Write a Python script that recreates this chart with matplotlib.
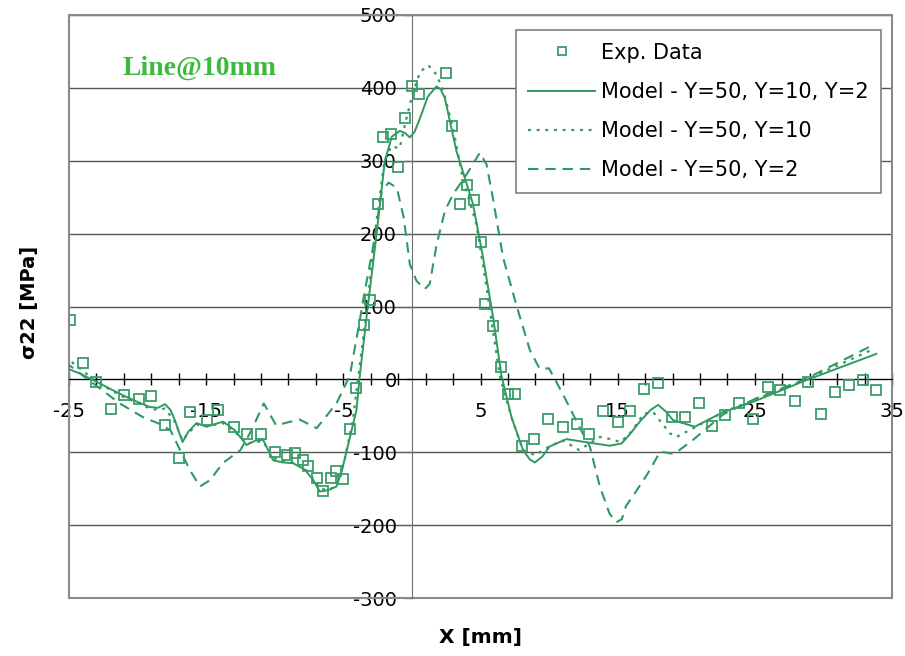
import numpy as np
import matplotlib
matplotlib.use('Agg')
import matplotlib.pyplot as plt
from matplotlib.ticker import FixedLocator
from matplotlib.lines import Line2D
from matplotlib.patches import Rectangle

plt.rcParams['font.family'] = ['DejaVu Sans']
plt.rcParams['axes.unicode_minus'] = False

# Dati sperimentali
exp_x = [-24.93, -23.99, -23.04, -21.95, -21.0, -19.9, -19.03, -18.0, -16.99, -16.19,
         -14.95, -14.15, -12.98, -12.03, -11.01, -10.0, -9.12, -8.54, -7.95, -7.59,
         -6.93, -6.49, -5.91, -5.55, -5.04, -4.53, -4.09, -3.51, -3.02, -2.46,
         -2.1, -1.56, -1.03, -0.52, 0.0, 0.48, 2.45, 2.93, 3.49, 3.98,
         4.51, 5.02, 5.36, 5.92, 6.46, 6.97, 7.55, 7.99, 8.91, 9.93,
         10.98, 12.0, 12.92, 13.94, 14.99, 15.88, 16.9, 17.94, 18.96, 19.89,
         20.91, 21.91, 22.86, 23.85, 24.87, 25.96, 26.87, 27.91, 28.88, 29.8,
         30.88, 31.87, 32.89, 33.81]
exp_y = [82, 23, -4, -41, -22, -27, -23, -62, -108, -45,
         -56, -42, -66, -75, -75, -100, -104, -101, -110, -119,
         -136, -153, -136, -126, -137, -68, -12, 75, 109, 240,
         332, 337, 291, 358, 403, 392, 421, 348, 241, 267,
         246, 189, 104, 73, 17, -20, -20, -91, -82, -55,
         -66, -61, -75, -44, -59, -44, -13, -5, -52, -51,
         -32, -64, -49, -32, -54, -11, -15, -30, -4, -48,
         -17, -8, -1, -15]

# Modello Y=50, Y=10, Y=2 (linea continua)
m1_x = [-25.3, -24.2, -23.24, -22.1, -21.05, -20.0, -19.1, -18.5, -18.0, -17.6, -17.28,
        -16.95, -16.72, -16.31, -15.7, -14.97, -14.3, -13.76, -12.9, -12.06, -11.4, -10.85,
        -10.4, -10.12, -9.4, -8.66, -7.8, -7.2, -6.71, -6.1, -5.5, -5.1, -4.77, -4.04,
        -3.8, -3.31, -2.58, -1.98, -1.47, -0.88, -0.5, -0.15, 0.2, 0.58, 1.16, 1.79,
        2.1, 2.4, 3.25, 4.46, 5.19, 5.92, 6.53, 7.26, 8.1, 8.6, 8.96, 9.5, 10.05,
        11.27, 12.97, 14.42, 15.28, 15.9, 16.61, 17.4, 17.95, 18.5, 19.04, 20.62, 22.68, 25.12,
        28.76, 33.86]
m1_y = [16, 8, -1, -12, -22, -31, -38, -39, -34, -42, -56,
        -74, -86, -72, -60, -65, -61, -58, -70, -90, -84, -83,
        -100, -111, -114, -115, -124, -138, -154, -152, -147, -125, -99, -42,
        5, 85, 199, 299, 333, 341, 338, 332, 340, 358, 388, 402,
        398, 386, 313, 240, 167, 85, 5, -52, -97, -110, -114, -106, -92,
        -82, -87, -91, -88, -75, -58, -42, -35, -44, -56, -65, -45, -29,
        -1, 35]

# Modello Y=50, Y=10 (punteggiata)
m2_x = [-25.3, -24.2, -23.24, -22.1, -21.05, -20.0, -19.1, -18.5, -18.0, -17.28,
        -16.72, -16.31, -15.7, -14.97, -14.3, -13.76, -12.9, -12.06, -11.4, -10.85,
        -10.12, -9.4, -8.66, -7.8, -7.2, -6.71, -6.1, -5.5, -4.9, -4.3,
        -3.9, -3.3, -2.6, -2.0, -1.5, -0.9, -0.4, 0.1, 0.6, 1.2,
        1.8, 2.3, 3.0, 3.7, 4.7, 5.4, 6.4, 7.26, 8.1, 9.0,
        10.0, 11.0, 12.2, 13.7, 14.5, 15.2, 16.0, 16.9, 17.6, 18.8,
        19.3, 20.5, 22.7, 25.1, 28.8, 33.7]
m2_y = [31, 15, 0, -13, -24, -32, -40, -42, -40, -58,
        -84, -74, -62, -64, -62, -60, -72, -88, -86, -85,
        -108, -112, -114, -122, -136, -150, -152, -146, -110, -55,
        5, 95, 215, 300, 320, 317, 358, 395, 422, 431,
        418, 395, 345, 276, 213, 131, 5, -52, -97, -104,
        -92, -84, -97, -79, -82, -86, -72, -47, -45, -74,
        -79, -67, -45, -27, 0, 42]

# Modello Y=50, Y=2 (tratteggiata)
m3_x = [-25.3, -23.2, -21.3, -19.6, -18.4, -17.6, -16.9, -16.2, -15.45, -14.7,
        -13.8, -12.5, -11.7, -10.8, -9.9, -8.2, -6.95, -5.5, -4.53, -3.8,
        -3.56, -2.8, -2.2, -1.7, -1.1, -0.6, -0.15, 0.34, 0.94, 1.3,
        1.8, 2.4, 3.0, 3.98, 4.95, 5.44, 5.9, 6.65, 7.6, 8.6,
        9.3, 10.0, 11.0, 12.2, 12.97, 13.7, 14.4, 14.9, 15.3, 15.6,
        16.4, 17.2, 18.1, 19.0, 19.5, 20.5, 21.5, 22.7, 25.1, 28.75,
        33.5]
m3_y = [24, -6, -33, -52, -61, -70, -97, -124, -147, -138,
        -115, -97, -70, -33, -63, -55, -67, -33, 5, 81,
        108, 185, 258, 270, 263, 222, 158, 135, 124, 131,
        185, 231, 254, 281, 311, 295, 249, 167, 103, 40,
        15, 15, -20, -65, -92, -147, -184, -196, -192, -174,
        -152, -129, -99, -102, -97, -83, -67, -48, -26, 1,
        46]

x_major = [-25, -15, -5, 5, 15, 25, 35]
y_major = [-300, -200, -100, 0, 100, 200, 300, 400, 500]

col_pts = '#3a9c6a'
col_lin = '#2f9a60'

fig = plt.figure(figsize=(9.05, 6.56), dpi=100)
ax = fig.add_axes([69/905, 58/656, 823/905, 583/656])

ax.plot(m1_x, m1_y, '-', color=col_lin, lw=1.4, zorder=3)
ax.plot(m2_x, m2_y, color=col_lin, lw=1.6, dashes=(1.3, 2.6), zorder=3)
ax.plot(m3_x, m3_y, color=col_lin, lw=1.5, dashes=(5, 3.3), zorder=3)
ax.plot(exp_x, exp_y, 's', mfc='none', mec=col_pts, mew=1.3, ms=7.5, zorder=4)

ax.set_xlim(-25, 35)
ax.set_ylim(-300, 500)

# assi che passano per lo zero
ax.spines['bottom'].set_position(('data', 0))
ax.spines['left'].set_position(('data', 0))
ax.spines['bottom'].set_color('black')
ax.spines['left'].set_color('#707070')
ax.spines['top'].set_visible(False)
ax.spines['right'].set_visible(False)
ax.add_patch(Rectangle((0, 0), 1, 1, transform=ax.transAxes, fill=False,
                       ec='#8a8a8a', lw=1.5, zorder=1, clip_on=False))

ax.xaxis.set_major_locator(FixedLocator(x_major))
ax.xaxis.set_minor_locator(FixedLocator(np.arange(-25, 36, 2)))
ax.yaxis.set_major_locator(FixedLocator(y_major))
ax.tick_params(axis='x', which='both', direction='inout', length=8, width=1,
               labelsize=14, pad=12)
ax.tick_params(axis='y', direction='out', length=5, width=1, color='#707070',
               labelsize=14, pad=6)
ax.grid(axis='y', color='#555555', lw=1, zorder=0)
ax.set_axisbelow(True)

fig.text(30/905, 1 - 302/656, 'σ22 [MPa]', rotation=90, fontsize=14,
         fontweight='bold', ha='center', va='center')
fig.text(480/905, 1 - 637/656, 'X [mm]', fontsize=14.5, fontweight='bold',
         ha='center', va='center')
fig.text(199/905, 1 - 68/656, 'Line@10mm', fontsize=20, fontweight='bold',
         family='Liberation Serif', color='#3cba3c', ha='center', va='center')

handles = [
    Line2D([], [], ls='none', marker='s', mfc='none', mec=col_pts, mew=1.3, ms=6),
    Line2D([], [], color=col_lin, lw=1.4),
    Line2D([], [], color=col_lin, lw=1.6, dashes=(1.3, 2.6)),
    Line2D([], [], color=col_lin, lw=1.5, dashes=(5, 3.3)),
]
labels = ['Exp. Data', 'Model - Y=50, Y=10, Y=2', 'Model - Y=50, Y=10', 'Model - Y=50, Y=2']
leg = ax.legend(handles, labels, loc='upper right', bbox_to_anchor=(0.987, 0.974),
                fontsize=15, handlelength=3.2, handletextpad=0.3, labelspacing=0.92,
                borderpad=0.6, borderaxespad=0, fancybox=False, framealpha=1,
                edgecolor='#808080')
leg.get_frame().set_linewidth(1.2)

fig.savefig('out.png', dpi=100)
